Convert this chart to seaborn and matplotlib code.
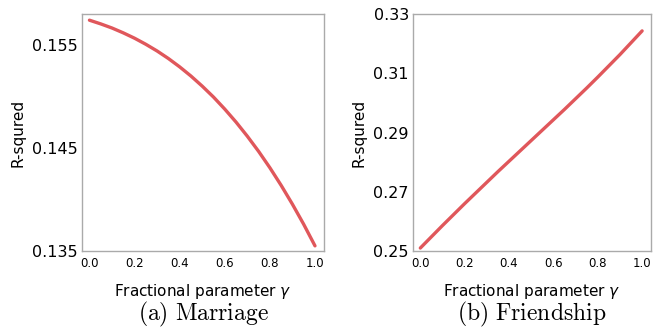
import matplotlib
matplotlib.use("Agg")
import matplotlib.pyplot as plt
import seaborn as sns
import pandas as pd

gamma = [0.0, 0.05, 0.1, 0.15, 0.2, 0.25, 0.3, 0.35, 0.4, 0.45, 0.5,
         0.55, 0.6, 0.65, 0.7, 0.75, 0.8, 0.85, 0.9, 0.95, 1.0]
marriage_r2 = [0.1574, 0.15704, 0.15664, 0.15617, 0.15565, 0.15506, 0.15441, 0.15368,
               0.15287, 0.15198, 0.15100, 0.14994, 0.14877, 0.14751, 0.14614, 0.14467,
               0.14308, 0.14137, 0.13954, 0.13759, 0.1355]
friendship_r2 = [0.2510, 0.2548, 0.2586, 0.2623, 0.2660, 0.2696, 0.2732, 0.2768, 0.2803,
                 0.2838, 0.2873, 0.2908, 0.2943, 0.2978, 0.3014, 0.3050, 0.3087, 0.3125,
                 0.3163, 0.3203, 0.3243]

marriage_yticks = [0.135, 0.145, 0.155]
friendship_yticks = [0.25, 0.27, 0.29, 0.31, 0.33]
xticks = [0.0, 0.2, 0.4, 0.6, 0.8, 1.0]
captions = [r"$\mathrm{(a)\ Marriage}$", r"$\mathrm{(b)\ Friendship}$"]

sns.set_theme(style="white")
plt.rcParams["font.family"] = ["DejaVu Sans"]
plt.rcParams["mathtext.fontset"] = "cm"
plt.rcParams["text.color"] = "black"
plt.rcParams["axes.labelcolor"] = "black"
plt.rcParams["xtick.color"] = "black"
plt.rcParams["ytick.color"] = "black"

W, H = 653, 328
fig = plt.figure(figsize=(W / 100, H / 100), dpi=100)

line_color = "#E0575B"
panels = [
    (marriage_r2, marriage_yticks, (0.135, 0.158), 82, 242, ["0.135", "0.145", "0.155"]),
    (friendship_r2, friendship_yticks, (0.25, 0.33), 413, 238, ["0.25", "0.27", "0.29", "0.31", "0.33"]),
]

for i, (vals, yt, ylim, left, width, ytl) in enumerate(panels):
    ax = fig.add_axes([left / W, (H - 251) / H, width / W, 237 / H])
    df = pd.DataFrame({"gamma": gamma, "r2": vals})
    sns.lineplot(data=df, x="gamma", y="r2", ax=ax, color=line_color, linewidth=2.4)
    ax.set_xlim(-0.033, 1.04)
    ax.set_ylim(*ylim)
    ax.set_yticks(yt)
    ax.set_yticklabels(ytl, fontsize=11.5)
    ax.set_xticks(xticks)
    ax.set_xticklabels([f"{t:.1f}" for t in xticks], fontsize=8.5)
    ax.tick_params(axis="both", which="both", length=2, width=0.6, color="#999999", pad=2)
    ax.tick_params(axis="y", pad=1)
    for s in ax.spines.values():
        s.set_color("#aaaaaa")
        s.set_linewidth(1.0)
    ax.set_ylabel("R-squred", fontsize=11, labelpad=5)
    ax.set_xlabel(r"Fractional parameter $\gamma$", fontsize=11, labelpad=9)
    ax.xaxis.label.set_math_fontfamily("dejavusans")
    cx = (left + width / 2) / W
    fig.text(cx, 1 - 314 / H, captions[i], ha="center", va="center", fontsize=17)

fig.savefig("out.png", dpi=100)
